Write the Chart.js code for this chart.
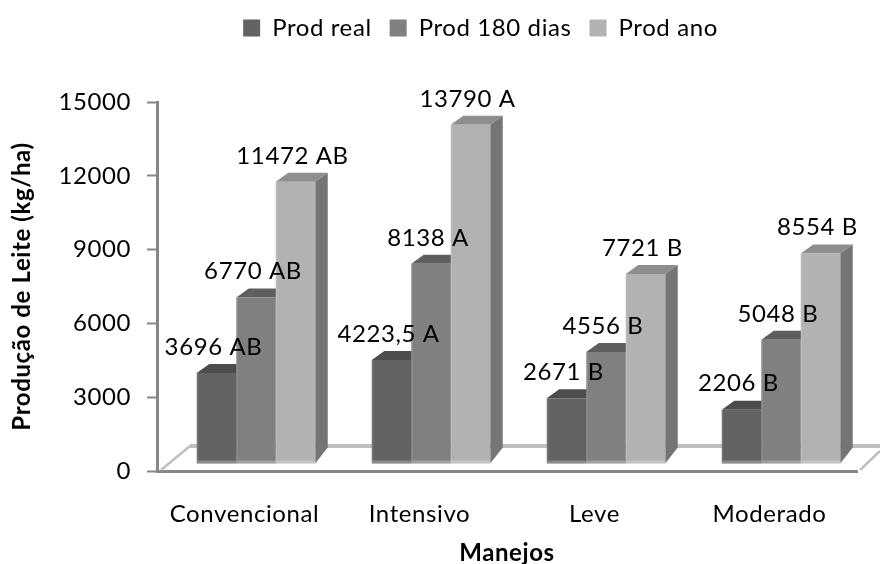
<!DOCTYPE html>
<html>
<head>
<meta charset="utf-8">
<title>Produção de Leite</title>
<script src="https://cdn.jsdelivr.net/npm/chart.js@4/dist/chart.umd.min.js"></script>
<style>
  html, body { margin: 0; padding: 0; background: #fff; }
  canvas { display: block; }
</style>
</head>
<body>
<canvas id="myChart" width="880" height="564"></canvas>
<script>
const categories = ['Convencional', 'Intensivo', 'Leve', 'Moderado'];
const prodReal = [3696, 4223.5, 2671, 2206];
const prod180 = [6770, 8138, 4556, 5048];
const prodAno = [11472, 13790, 7721, 8554];
const letrasReal = ['AB', 'A', 'B', 'B'];
const letras180 = ['AB', 'A', 'B', 'B'];
const letrasAno = ['AB', 'A', 'B', 'B'];
const yTicks = [0, 3000, 6000, 9000, 12000, 15000];

const fontName = 'Lato';
const axisColor = '#868686';
const shiftX = 11.5, shiftY = -7, depthX = 12.5, depthY = 9;

const series = [
	{ label: 'Prod real', data: prodReal, letters: letrasReal, front: '#636363', top: '#4c4c4c', side: '#4f4f4f' },
	{ label: 'Prod 180 dias', data: prod180, letters: letras180, front: '#808080', top: '#5e5e5e', side: '#666666' },
	{ label: 'Prod ano', data: prodAno, letters: letrasAno, front: '#b2b2b2', top: '#8e8e8e', side: '#757575' },
];

function poly(ctx, color, pts) {
	ctx.fillStyle = color;
	ctx.beginPath();
	pts.forEach((p, i) => i ? ctx.lineTo(p[0], p[1]) : ctx.moveTo(p[0], p[1]));
	ctx.closePath();
	ctx.fill();
}

// lets the plot start well below the legend, and widens the text a bit
const legendGap = {
	id: 'legendGap',
	beforeInit(chart) {
		const fit = chart.legend.fit;
		chart.legend.fit = function () {
			fit.call(this);
			this.height += 50;
		};
	},
	beforeLayout(chart) {
		chart.ctx.letterSpacing = '0.6px';
	},
	afterLayout(chart) {
		chart.legend.left += 52;
		chart.legend.right += 52;
		chart.legend.top -= 2;
	},
	beforeDraw(chart) {
		chart.ctx.letterSpacing = '0.6px';
	}
};

// fake 3D look: floor, bar tops and sides, value labels
const bars3d = {
	id: 'bars3d',
	beforeDatasetsDraw(chart) {
		const ctx = chart.ctx, a = chart.chartArea;
		ctx.save();
		ctx.strokeStyle = '#bfbfbf';
		ctx.lineWidth = 4;
		ctx.beginPath();
		ctx.moveTo(a.left + 33, a.bottom - 25);
		ctx.lineTo(880, a.bottom - 25);
		ctx.stroke();
		ctx.lineWidth = 2.5;
		ctx.beginPath();
		ctx.moveTo(a.left + 4, a.bottom - 1);
		ctx.lineTo(a.left + 33, a.bottom - 25);
		ctx.moveTo(a.right + 3, a.bottom - 1);
		ctx.lineTo(880, a.bottom - 20);
		ctx.stroke();

		ctx.translate(shiftX, shiftY);
		series.forEach((s, i) => {
			chart.getDatasetMeta(i).data.forEach(b => {
				const l = b.x - b.width / 2, r = b.x + b.width / 2;
				poly(ctx, s.top, [[l, b.y], [l + depthX, b.y - depthY], [r + depthX, b.y - depthY], [r, b.y]]);
				poly(ctx, s.side, [[r, b.y], [r + depthX, b.y - depthY], [r + depthX, b.base - 16], [r, b.base]]);
			});
		});
	},
	afterDatasetsDraw(chart) {
		const ctx = chart.ctx;
		// lighter strip at the foot and left edge of every bar
		series.forEach((s, i) => {
			chart.getDatasetMeta(i).data.forEach(b => {
				const l = b.x - b.width / 2;
				ctx.fillStyle = 'rgba(255,255,255,0.25)';
				ctx.fillRect(l, b.base - 3, b.width, 3);
				ctx.fillStyle = 'rgba(255,255,255,0.12)';
				ctx.fillRect(l, b.y, 1.5, b.base - b.y - 3);
			});
		});
		ctx.restore();

		ctx.save();
		ctx.font = '24px ' + fontName;
		ctx.fillStyle = '#000';
		ctx.textAlign = 'center';
		ctx.textBaseline = 'middle';
		series.forEach((s, i) => {
			chart.getDatasetMeta(i).data.forEach((b, j) => {
				const txt = String(s.data[j]).replace('.', ',') + ' ' + s.letters[j];
				ctx.fillText(txt, b.x + shiftX - 3, b.y + shiftY - 26);
			});
		});
		ctx.restore();
	}
};

new Chart(document.getElementById('myChart'), {
	type: 'bar',
	data: {
		labels: categories,
		datasets: series.map(s => ({
			label: s.label,
			data: s.data,
			backgroundColor: s.front,
			borderWidth: 0,
			clip: false,
			categoryPercentage: 0.677,
			barPercentage: 1,
		}))
	},
	options: {
		responsive: false,
		animation: false,
		layout: { padding: { top: 0, right: 23, left: 0, bottom: 0 } },
		plugins: {
			tooltip: { enabled: false },
			legend: {
				position: 'top',
				labels: {
					color: '#000',
					font: { family: fontName, size: 24 },
					boxWidth: 17,
					boxHeight: 17,
					padding: 18,
				}
			}
		},
		scales: {
			x: {
				afterFit(scale) { scale.height = 93; },
				grid: { drawOnChartArea: false, drawTicks: false },
				border: { color: axisColor, width: 3 },
				ticks: { color: '#000', font: { family: fontName, size: 24 }, padding: 29, maxRotation: 0 },
				title: {
					display: true,
					text: 'Manejos',
					color: '#000',
					font: { family: fontName, size: 24, weight: 'bold', lineHeight: 0.9 },
					padding: { top: 0, bottom: 0 },
				}
			},
			y: {
				min: 0,
				max: 15000,
				afterFit(scale) { scale.width = 157; },
				afterBuildTicks(scale) { scale.ticks = yTicks.map(v => ({ value: v })); },
				grid: { drawOnChartArea: false, tickLength: 10, tickColor: axisColor, tickWidth: 2 },
				border: { color: axisColor, width: 3 },
				ticks: { color: '#000', font: { family: fontName, size: 24 }, padding: 16, callback: v => String(v) },
				title: {
					display: true,
					text: 'Produção de Leite (kg/ha)',
					color: '#000',
					font: { family: fontName, size: 24, weight: 'bold' },
					padding: { top: 8, bottom: 0 },
				}
			}
		}
	},
	plugins: [legendGap, bars3d]
});
</script>
</body>
</html>
